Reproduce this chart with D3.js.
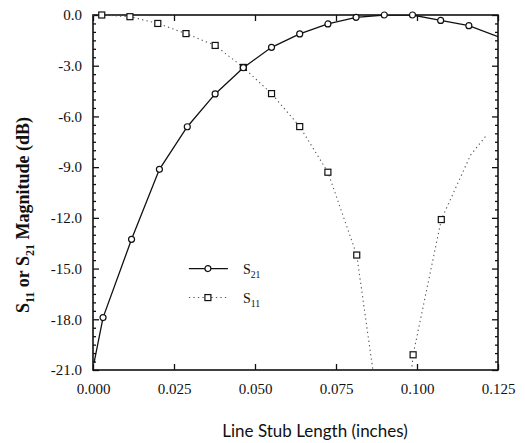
<!DOCTYPE html>
<html>
<head>
<meta charset="utf-8">
<script src="https://cdn.jsdelivr.net/npm/d3@7"></script>
<style>
  body { margin: 0; background: #fff; }
  text { font-family: 'Liberation Serif', 'Times New Roman', serif; fill: #111; }
</style>
</head>
<body>
<div id="chart"></div>
<script>
// Graduations des axes
const xTicks = [0, 0.025, 0.05, 0.075, 0.1, 0.125]
const yTicks = [0, -3, -6, -9, -12, -15, -18, -21]

// S21 — trait plein, cercles
const s21 = [
  [0.0031, -17.9], [0.0119, -13.27], [0.0205, -9.13], [0.0291, -6.61],
  [0.0377, -4.67], [0.0464, -3.12], [0.0551, -1.91], [0.0638, -1.12],
  [0.0725, -0.53], [0.0812, -0.14], [0.0899, 0.0], [0.0986, 0.0],
  [0.1073, -0.32], [0.1160, -0.63]
]
// points de tracé sans marqueur
const s21LineOnly = [[0.0003, -20.6], [0.1250, -1.28]]

// S11 — pointillé, carrés
const s11 = [
  [0.0027, 0.0], [0.0114, -0.1], [0.0200, -0.5], [0.0287, -1.1],
  [0.0377, -1.8], [0.0464, -3.1], [0.0551, -4.65], [0.0638, -6.6],
  [0.0725, -9.3], [0.0814, -14.2], [0.0988, -20.1], [0.1075, -12.1]
]
const s11LineOnly = [[0.0, 0.0], [0.0866, -21.3], [0.0982, -21.3], [0.1165, -8.3], [0.1215, -7.1]]

const width = 525, height = 443
const m = { left: 93, right: 27, top: 15, bottom: 73 }
const innerW = width - m.left - m.right
const innerH = height - m.top - m.bottom

const svg = d3.select('#chart').append('svg')
  .attr('width', width).attr('height', height)

const g = svg.append('g').attr('transform', `translate(${m.left},${m.top})`)

const x = d3.scaleLinear().domain([0, 0.125]).range([0, innerW])
const y = d3.scaleLinear().domain([-21, 0]).range([innerH, 0])

g.append('clipPath').attr('id', 'clip')
  .append('rect').attr('width', innerW).attr('height', innerH)

// Ticks mineurs (0.5 dB) sur les axes verticaux
const yMinor = d3.range(-21, 0.01, 0.5).filter(v => Math.abs(v % 3) > 0.01)

function styleAxis(sel) {
  sel.attr('font-family', null)
  sel.select('.domain').remove()
  sel.selectAll('.tick line').attr('stroke', '#111').attr('stroke-width', 1.3)
  sel.selectAll('.tick text')
    .style('font-family', "'Liberation Serif', serif")
    .attr('font-size', 15).attr('fill', '#111')
}

// Axe gauche
g.append('g')
  .call(d3.axisLeft(y).tickValues(yTicks).tickSizeInner(-6).tickPadding(11))
  .call(styleAxis)
  .call(s => s.selectAll('.tick text').text(d => d3.format('.1f')(d).replace('−', '-')))
g.append('g')
  .call(d3.axisLeft(y).tickValues(yMinor).tickFormat('').tickSizeInner(-3))
  .call(styleAxis)

// Axe droit
g.append('g').attr('transform', `translate(${innerW},0)`)
  .call(d3.axisRight(y).tickValues(yTicks).tickFormat('').tickSizeInner(-6))
  .call(styleAxis)
g.append('g').attr('transform', `translate(${innerW},0)`)
  .call(d3.axisRight(y).tickValues(yMinor).tickFormat('').tickSizeInner(-3))
  .call(styleAxis)

// Axe bas
g.append('g').attr('transform', `translate(0,${innerH})`)
  .call(d3.axisBottom(x).tickValues(xTicks).tickFormat(d3.format('.3f')).tickSizeInner(-6).tickPadding(13))
  .call(styleAxis)

// Axe haut
g.append('g')
  .call(d3.axisTop(x).tickValues(xTicks).tickFormat('').tickSizeInner(-6))
  .call(styleAxis)

// Cadre
g.append('rect')
  .attr('width', innerW).attr('height', innerH)
  .attr('fill', 'none').attr('stroke', '#111').attr('stroke-width', 1.6)

const line = d3.line().x(d => x(d[0])).y(d => y(d[1]))
const byX = (a, b) => a[0] - b[0]

// Courbes
g.append('path')
  .datum(s11.concat(s11LineOnly).sort(byX))
  .attr('clip-path', 'url(#clip)')
  .attr('d', line)
  .attr('fill', 'none').attr('stroke', '#555')
  .attr('stroke-width', 1.1).attr('stroke-dasharray', '1.3 3.2')

g.append('path')
  .datum(s21.concat(s21LineOnly).sort(byX))
  .attr('clip-path', 'url(#clip)')
  .attr('d', line)
  .attr('fill', 'none').attr('stroke', '#111').attr('stroke-width', 1.3)

// Marqueurs
function square(sel, cx, cy) {
  sel.append('rect')
    .attr('x', cx - 3).attr('y', cy - 3)
    .attr('width', 6).attr('height', 6)
    .attr('fill', '#fff').attr('stroke', '#111').attr('stroke-width', 1.2)
}
function circle(sel, cx, cy) {
  sel.append('circle')
    .attr('cx', cx).attr('cy', cy).attr('r', 3)
    .attr('fill', '#fff').attr('stroke', '#111').attr('stroke-width', 1.2)
}

s11.forEach(d => square(g, x(d[0]), y(d[1])))
s21.forEach(d => circle(g, x(d[0]), y(d[1])))

// Légende
const leg = g.append('g').attr('transform', `translate(${x(0.0296)},${y(-15.0)})`)
leg.append('line').attr('x1', 0).attr('x2', 39).attr('y1', 0).attr('y2', 0)
  .attr('stroke', '#111').attr('stroke-width', 1.3)
circle(leg, 19, 0)
leg.append('line').attr('x1', 0).attr('x2', 38).attr('y1', 29).attr('y2', 29)
  .attr('stroke', '#555').attr('stroke-width', 1.1).attr('stroke-dasharray', '1.3 3.2')
square(leg, 19, 29)

function subLabel(sel, xx, yy, base, sub, size) {
  const t = sel.append('text').attr('x', xx).attr('y', yy).attr('font-size', size)
  t.append('tspan').text(base)
  t.append('tspan').attr('dy', 4).attr('font-size', size * 0.7).text(sub)
  return t
}
subLabel(leg, 54, 5, 'S', '21', 14)
subLabel(leg, 54, 34, 'S', '11', 14)

// Titre axe X
svg.append('text')
  .attr('x', 315).attr('y', 437)
  .attr('text-anchor', 'middle').attr('font-size', 17)
  .style('font-family', "Lato, 'Open Sans', sans-serif")
  .text('Line Stub Length (inches)')

// Titre axe Y avec indices — ancré au début (bas) du libellé
const yl = svg.append('text')
  .attr('transform', 'translate(29,313) rotate(-90)')
  .attr('text-anchor', 'start').attr('font-size', 18).attr('font-weight', 'bold')
yl.append('tspan').text('S')
yl.append('tspan').attr('dy', 5).attr('font-size', 12).text('11')
yl.append('tspan').attr('dy', -5).text(' or S')
yl.append('tspan').attr('dy', 5).attr('font-size', 12).text('21')
yl.append('tspan').attr('dy', -5).text('  Magnitude (dB)')
</script>
</body>
</html>
